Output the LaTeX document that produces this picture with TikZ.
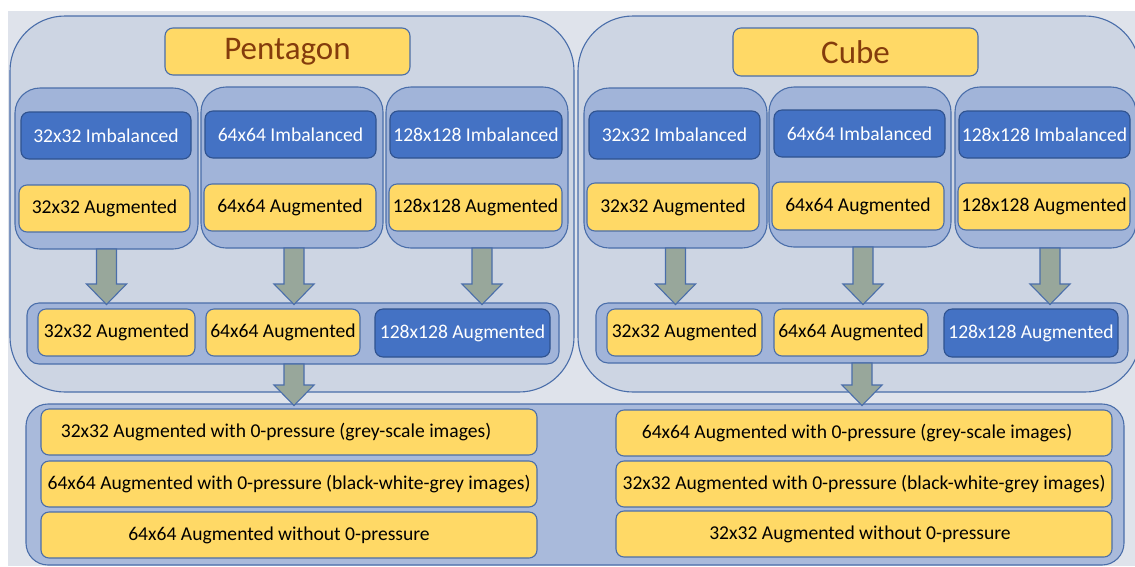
\documentclass[tikz,border=0pt]{standalone}
\usepackage{fontspec}
\setmainfont{Carlito}
\usetikzlibrary{calc}
\definecolor{pagebg}{HTML}{DFE3EB}
\definecolor{outerfill}{HTML}{CDD5E3}
\definecolor{colfill}{HTML}{A1B4D9}
\definecolor{botfill}{HTML}{A9BADB}
\definecolor{edgeblue}{HTML}{4A6EAA}
\definecolor{darkblue}{HTML}{4472C4}
\definecolor{darkedge}{HTML}{2F528F}
\definecolor{yel}{HTML}{FFD966}
\definecolor{arrfill}{HTML}{98A79B}
\definecolor{titlecol}{HTML}{843C0C}
\tikzset{
  base/.style={inner sep=0pt, outer sep=0pt, line width=1.1pt, draw=edgeblue},
  outerbox/.style={base, fill=outerfill, rounded corners=55pt},
  colbox/.style={base, fill=colfill, rounded corners=25pt},
  rowbox/.style={base, fill=colfill, rounded corners=12pt},
  botbox/.style={base, fill=botfill, rounded corners=22pt},
  titlebox/.style={base, fill=yel, rounded corners=8pt, text=titlecol, font=\fontsize{33}{36}\selectfont},
  imbbox/.style={base, draw=darkedge, fill=darkblue, rounded corners=8pt, text=white, font=\fontsize{19.6}{22}\selectfont},
  augbox/.style={base, fill=yel, rounded corners=8pt, text=black, font=\fontsize{19.6}{22}\selectfont},
  blockarrow/.style={line width=1.1pt, draw=edgeblue, fill=arrfill, line join=miter}
}
\newcommand\bx[7]{\node[#6, minimum width={#4-#2}, minimum height={#5-#3}] (#1) at ({(#2+#4)/2},{(#3+#5)/2}) {#7};}
% block arrow from bottom of node #1 to top of node #2, shifted by #3 (pt)
\newcommand\barrow[3]{\draw[blockarrow] let \p1=(#1.south), \p2=(#2.north) in
  (\x1+#3pt-10pt,\y1) -- (\x1+#3pt+10pt,\y1) -- (\x1+#3pt+10pt,\y2+19pt) -- (\x1+#3pt+20pt,\y2+19pt)
  -- (\x1+#3pt,\y2-1.5pt) -- (\x1+#3pt-20pt,\y2+19pt) -- (\x1+#3pt-10pt,\y2+19pt) -- cycle;}
\begin{document}
\begin{tikzpicture}[x=1pt,y=-1pt]
\useasboundingbox (0,0) rectangle (1135,566);
\clip (0,0) rectangle (1135,566);
\fill[white] (0,0) rectangle (1135,566);
\fill[pagebg] (8,11) rectangle (1135,566);

% ---------- Pentagon ----------
\bx{outerP}{10}{16}{574}{392}{outerbox}{}
\bx{titleP}{165}{28}{410}{75}{titlebox}{Pentagon}
\bx{colP1}{15}{88}{198}{249}{colbox}{}
\bx{colP2}{201}{87}{383}{248}{colbox}{}
\bx{colP3}{386}{87}{568}{248}{colbox}{}
\bx{P1i}{21}{112}{191}{159}{imbbox}{32x32 Imbalanced}
\bx{P2i}{205}{111}{376}{158}{imbbox}{64x64 Imbalanced}
\bx{P3i}{390}{111}{562}{158}{imbbox}{128x128 Imbalanced}
\bx{P1a}{19}{185}{190}{232}{augbox}{32x32 Augmented}
\bx{P2a}{204}{184}{376}{231}{augbox}{64x64 Augmented}
\bx{P3a}{389}{184}{562}{231}{augbox}{128x128 Augmented}
\bx{rowP}{27}{303}{559}{364}{rowbox}{}
\bx{rP1}{38}{309}{195}{356}{augbox}{32x32 Augmented}
\bx{rP2}{206}{309}{360}{356}{augbox}{64x64 Augmented}
\bx{rP3}{375}{309}{550}{357}{imbbox}{128x128 Augmented}

% ---------- Cube ----------
\bx{outerC}{578}{16}{1140}{392}{outerbox}{}
\bx{titleC}{733}{28}{978}{76}{titlebox}{Cube}
\bx{colC1}{584}{88}{767}{248}{colbox}{}
\bx{colC2}{769}{87}{951}{247}{colbox}{}
\bx{colC3}{955}{87}{1136}{248}{colbox}{}
\bx{C1i}{589}{111}{760}{159}{imbbox}{32x32 Imbalanced}
\bx{C2i}{774}{110}{945}{157}{imbbox}{64x64 Imbalanced}
\bx{C3i}{959}{111}{1130}{158}{imbbox}{128x128 Imbalanced}
\bx{C1a}{587}{183}{759}{231}{augbox}{32x32 Augmented}
\bx{C2a}{772}{182}{944}{230}{augbox}{64x64 Augmented}
\bx{C3a}{958}{183}{1130}{230}{augbox}{128x128 Augmented}
\bx{rowC}{596}{303}{1128}{363}{rowbox}{}
\bx{rC1}{607}{309}{762}{356}{augbox}{32x32 Augmented}
\bx{rC2}{774}{309}{928}{356}{augbox}{64x64 Augmented}
\bx{rC3}{944}{309}{1118}{357}{imbbox}{128x128 Augmented}

% ---------- Bottom ----------
\bx{bottom}{26}{404}{1124}{565}{botbox}{}
\bx{BL1}{41}{409}{537}{455}{augbox}{32x32 Augmented with 0-pressure (grey-scale images)\hspace*{26pt}}
\bx{BL2}{41}{461}{537}{507}{augbox}{64x64 Augmented with 0-pressure (black-white-grey images)}
\bx{BL3}{41}{512}{537}{558}{augbox}{64x64 Augmented without 0-pressure\hspace*{20pt}}
\bx{BR1}{616}{410}{1112}{456}{augbox}{64x64 Augmented with 0-pressure (grey-scale images)\hspace*{14pt}}
\bx{BR2}{616}{461}{1112}{507}{augbox}{32x32 Augmented with 0-pressure (black-white-grey images)}
\bx{BR3}{616}{511}{1112}{557}{augbox}{32x32 Augmented without 0-pressure\hspace*{8pt}}

% ---------- Arrows ----------
\barrow{colP1}{rowP}{0}
\barrow{colP2}{rowP}{2}
\barrow{colP3}{rowP}{5}
\barrow{colC1}{rowC}{0}
\barrow{colC2}{rowC}{3}
\barrow{colC3}{rowC}{4.5}
\barrow{rowP}{bottom}{1}
\barrow{rowC}{bottom}{0}
\end{tikzpicture}
\end{document}
